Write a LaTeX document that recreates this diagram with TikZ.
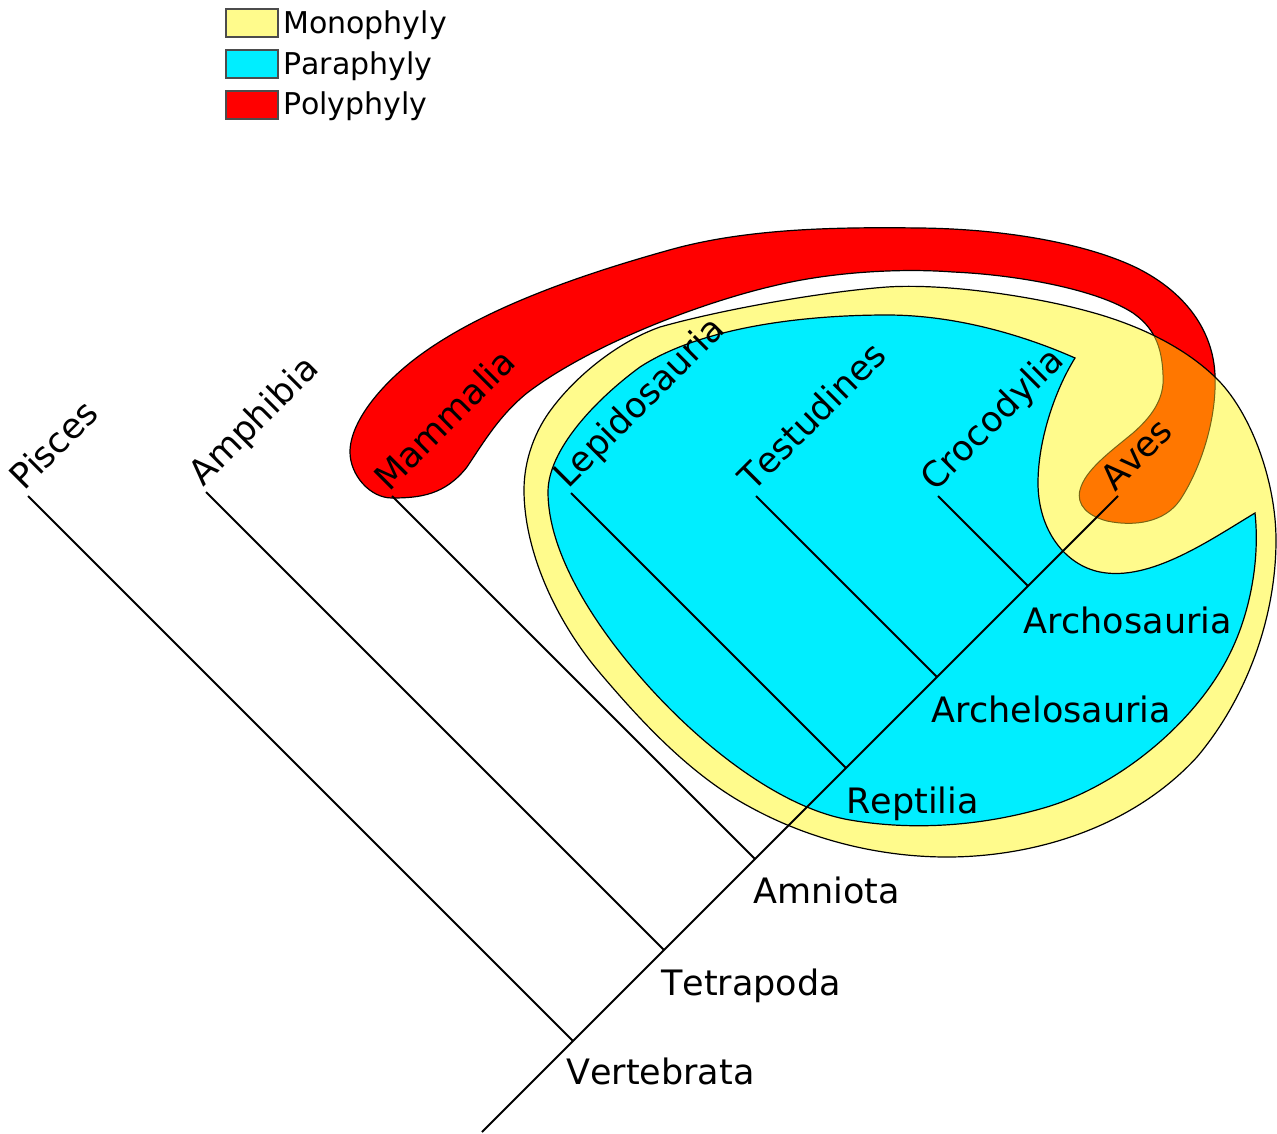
\documentclass[tikz,border=0pt]{standalone}
\usepackage{fontspec}
\setmainfont{DejaVu Sans}[Kerning=Off]
\definecolor{mono}{RGB}{255,251,140}
\definecolor{para}{RGB}{0,238,255}
\definecolor{poly}{RGB}{255,0,0}
\definecolor{overlap}{RGB}{255,119,0}
\definecolor{overlapline}{RGB}{120,100,20}
\begin{document}
\begin{tikzpicture}[x=1pt,y=-1pt,
  outline/.style={draw=black, line width=1.2pt},
  branch/.style={draw=black, line width=2pt},
  leaflab/.style={anchor=base west, rotate=45, inner sep=0pt, font=\fontsize{35}{42}\selectfont},
  cladelab/.style={anchor=base west, inner sep=0pt, font=\fontsize{35}{42}\selectfont},
  legbox/.style={draw=black!70, line width=1.6pt},
  legtext/.style={anchor=base west, inner sep=0pt, font=\fontsize{30}{36}\selectfont}]
\useasboundingbox (0,0) rectangle (1277,1133);

% ---- saved shapes
\path[save path=\redpath]
 (392,498) .. controls (370,498) and (350,475) .. (350,452)
 .. controls (350,420) and (385,380) .. (423,353)
 .. controls (490,305) and (590,272) .. (673,249)
 .. controls (750,228) and (840,227) .. (920,228)
 .. controls (1010,229) and (1090,245) .. (1137,268)
 .. controls (1185,292) and (1213,330) .. (1215,375)
 .. controls (1217,420) and (1200,470) .. (1180,500)
 .. controls (1165,522) and (1135,527) .. (1107,521)
 .. controls (1088,516) and (1076,505) .. (1080,490)
 .. controls (1085,470) and (1110,452) .. (1133,433)
 .. controls (1150,418) and (1165,400) .. (1163,375)
 .. controls (1162,345) and (1153,327) .. (1133,313)
 .. controls (1098,290) and (1020,275) .. (953,272)
 .. controls (900,268) and (830,272) .. (773,286)
 .. controls (700,303) and (590,345) .. (527,393)
 .. controls (500,415) and (485,440) .. (467,467)
 .. controls (445,495) and (420,498) .. (392,498) -- cycle;
\path[save path=\yellowpath]
 (524,490) .. controls (524,460) and (535,430) .. (553,407)
 .. controls (575,378) and (615,343) .. (660,327)
 .. controls (720,310) and (820,292) .. (887,287)
 .. controls (950,283) and (1040,298) .. (1087,311)
 .. controls (1140,325) and (1185,348) .. (1215,377)
 .. controls (1250,410) and (1276,480) .. (1276,540)
 .. controls (1276,620) and (1245,700) .. (1197,757)
 .. controls (1130,830) and (1030,857) .. (947,857)
 .. controls (880,857) and (810,840) .. (750,807)
 .. controls (690,775) and (640,720) .. (600,673)
 .. controls (555,620) and (524,550) .. (524,490) -- cycle;

% ---- polyphyly band
\path[fill=poly, outline, use path=\redpath];
% ---- monophyly
\path[fill=mono, use path=\yellowpath];
\begin{scope}
  \clip[use path=\yellowpath];
  \path[fill=overlap, draw=overlapline, line width=1pt, use path=\redpath];
\end{scope}
\path[outline, use path=\yellowpath];

% ---- paraphyly
\path[fill=para, outline]
 (1075,358) .. controls (1055,390) and (1038,440) .. (1038,483)
 .. controls (1038,530) and (1065,565) .. (1100,572)
 .. controls (1150,582) and (1210,540) .. (1255,513)
 .. controls (1260,560) and (1250,610) .. (1233,647)
 .. controls (1200,720) and (1120,785) .. (1047,807)
 .. controls (990,824) and (920,832) .. (850,820)
 .. controls (780,808) and (700,745) .. (643,680)
 .. controls (590,620) and (548,550) .. (548,492)
 .. controls (548,450) and (595,400) .. (640,367)
 .. controls (700,328) and (800,315) .. (887,315)
 .. controls (960,315) and (1030,338) .. (1075,358) -- cycle;

% ---- tree
\coordinate (root) at (482,1132);
\coordinate (nVert) at (573,1041);
\coordinate (nTetra) at (664,950);
\coordinate (nAmn) at (755,859);
\coordinate (nRept) at (846,768);
\coordinate (nArchel) at (937,677);
\coordinate (nArchos) at (1028,586);
\coordinate (tAves) at (1118,496);
\coordinate (tPisces) at (28,496);
\coordinate (tAmph) at (206,492);
\coordinate (tMamm) at (392,496);
\coordinate (tLepi) at (571,493);
\coordinate (tTest) at (756,496);
\coordinate (tCroc) at (938,496);

\draw[branch] (root) -- (tAves);
\draw[branch] (nVert) -- (tPisces);
\draw[branch] (nTetra) -- (tAmph);
\draw[branch] (nAmn) -- (tMamm);
\draw[branch] (nRept) -- (tLepi);
\draw[branch] (nArchel) -- (tTest);
\draw[branch] (nArchos) -- (tCroc);

% ---- leaf labels
\node[leaflab] (lPisces) at (24,492) {Pisces};
\node[leaflab] (lAmph) at (203,488) {Amphibia};
\node[leaflab] (lMamm) at (389,493) {Mammalia};
\node[leaflab] (lLepi) at (568,490) {Lepidosauria};
\node[leaflab] (lTest) at (753,493) {Testudines};
\node[leaflab] (lCroc) at (935,493) {Crocodylia};
\node[leaflab] (lAves) at (1115,493) {Aves};

% ---- clade labels
\node[cladelab] (cVert) at (566,1084) {Vertebrata};
\node[cladelab] (cTetra) at (661,995) {Tetrapoda};
\node[cladelab] (cAmn) at (753,903) {Amniota};
\node[cladelab] (cRept) at (846,813) {Reptilia};
\node[cladelab] (cArchel) at (931,722) {Archelosauria};
\node[cladelab] (cArchos) at (1023,633) {Archosauria};

% ---- legend
\draw[legbox, fill=mono] (226,9) rectangle (278,37);
\draw[legbox, fill=para] (226,50) rectangle (278,78);
\draw[legbox, fill=poly] (226,91) rectangle (278,119);
\node[legtext] (gMono) at (283,33) {Monophyly};
\node[legtext] (gPara) at (283,74) {Paraphyly};
\node[legtext] (gPoly) at (283,114) {Polyphyly};
\end{tikzpicture}
\end{document}
